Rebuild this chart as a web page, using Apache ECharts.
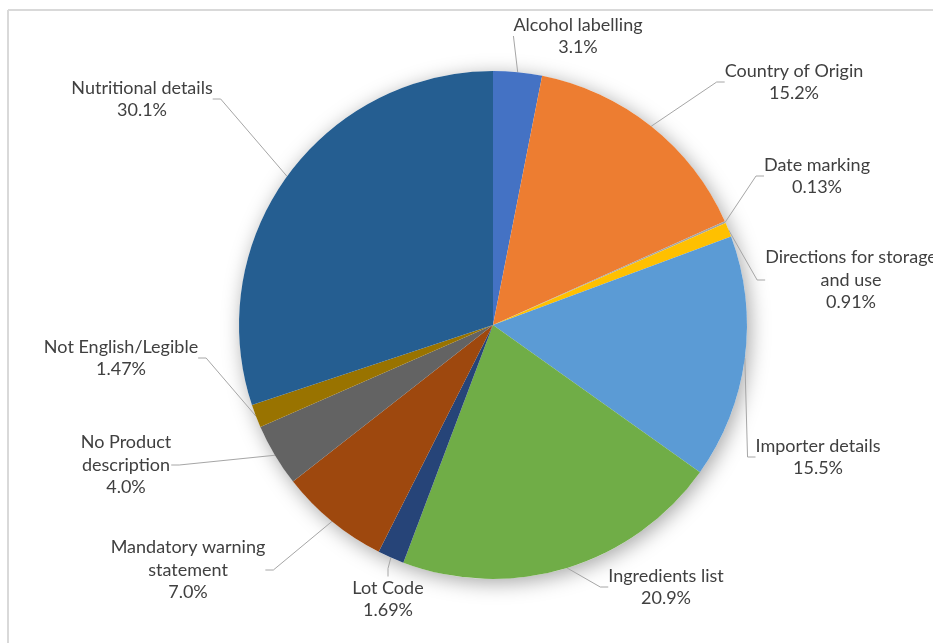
<!DOCTYPE html>
<html>
<head>
<meta charset="utf-8">
<script src="https://cdn.jsdelivr.net/npm/echarts@6/dist/echarts.min.js"></script>
<style>
  html, body { margin: 0; padding: 0; background: #fff; }
  #chart { width: 933px; height: 643px; }
</style>
</head>
<body>
<div id="chart"></div>
<script>
// Share of labelling issues by category (percent), clockwise from 12 o'clock
const categories = [
  'Alcohol labelling',
  'Country of Origin',
  'Date marking',
  'Directions for storage\nand use',
  'Importer details',
  'Ingredients list',
  'Lot Code',
  'Mandatory warning\nstatement',
  'No Product\ndescription',
  'Not English/Legible',
  'Nutritional details'
];
const percentText = ['3.1', '15.2', '0.13', '0.91', '15.5', '20.9', '1.69', '7.0', '4.0', '1.47', '30.1'];
const values = percentText.map(Number);

const sliceColors = ['#4472C4', '#ED7D31', '#A5A5A5', '#FFC000', '#5B9BD5', '#70AD47',
                     '#264478', '#9E480E', '#636363', '#997300', '#255E91'];

// Label block centres (pixels)
const labelSpots = [
  [578, 36], [794, 82], [817, 176], [851, 280], [818, 457], [666, 587],
  [388, 599], [188, 570], [126, 465], [121, 358], [142, 99]
];

const chart = echarts.init(document.getElementById('chart'), null, { renderer: 'canvas' });

const center = [493, 325];
const radius = 254;

chart.setOption({
  backgroundColor: '#ffffff',
  animation: false,
  graphic: [
    { type: 'line', shape: { x1: 8, y1: 10, x2: 933, y2: 10 }, style: { stroke: '#D9D9D9', lineWidth: 2 } },
    { type: 'line', shape: { x1: 8, y1: 10, x2: 8, y2: 643 }, style: { stroke: '#D9D9D9', lineWidth: 2 } }
  ],
  series: [
    {
      // soft drop shadow under the whole pie
      type: 'pie',
      silent: true,
      center: center,
      radius: radius,
      z: 1,
      label: { show: false },
      labelLine: { show: false },
      itemStyle: {
        color: '#ffffff',
        shadowBlur: 20,
        shadowOffsetX: 3,
        shadowOffsetY: 4,
        shadowColor: 'rgba(0,0,0,0.35)'
      },
      data: [{ value: 1, name: '' }]
    },
    {
      type: 'pie',
      center: center,
      radius: radius,
      startAngle: 90,
      clockwise: true,
      z: 2,
      itemStyle: { borderWidth: 0 },
      data: categories.map((name, i) => ({
        name: name,
        value: values[i],
        itemStyle: { color: sliceColors[i] }
      })),
      label: {
        show: true,
        position: 'outer',
        alignTo: 'none',
        formatter: p => p.name + '\n' + percentText[p.dataIndex] + '%',
        fontFamily: 'Lato, "Open Sans", sans-serif',
        fontSize: 18,
        lineHeight: 22.5,
        color: '#404040',
        align: 'center'
      },
      labelLine: {
        show: true,
        length: 15,
        length2: 8,
        lineStyle: { color: '#A6A6A6', width: 1 }
      },
      labelLayout: function (params) {
        const spot = labelSpots[params.dataIndex];
        return {
          x: spot[0],
          y: spot[1],
          align: 'center',
          verticalAlign: 'middle',
          hideOverlap: false
        };
      }
    }
  ]
});
</script>
</body>
</html>
